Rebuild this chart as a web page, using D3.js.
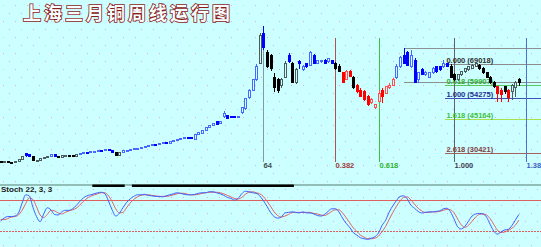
<!DOCTYPE html>
<meta charset="utf-8">
<title>上海三月铜周线运行图</title>
<style>
body { margin: 0; background: #ccffff; }
svg { display: block; font-family: "Liberation Sans", Arial, sans-serif; }
.title { font-family: "Noto Sans CJK SC", sans-serif; font-weight: 700; }
</style>
<body>
<script src="https://d3js.org/d3.v7.min.js"></script>
<script>

// weekly candles, one row per week: [open, high, low, close]
const weeklyOhlc = [
  [26530,26960,26090,26310],[26310,26740,26090,26530],[26530,26740,25870,26310],[26310,26530,25870,26090],
  [26090,26740,25870,26530],[26530,27610,26310,27390],[27390,29130,27180,28690],[29990,30430,28690,29130],
  [29560,29990,28480,28690],[28690,28910,26740,26960],[26960,27390,26740,27180],[27180,28260,26960,28040],
  [28040,28690,27830,28480],[28480,29130,28260,28910],[28910,29780,28690,29560],[29560,29780,28690,28910],
  [28910,29130,28040,28260],[28260,29340,28040,29130],[29130,29560,28910,29340],[29340,29560,28690,28910],
  [29130,29340,28690,28910],[28910,29780,28690,29560],[29560,30210,29340,29990],[29990,30860,29780,30640],
  [30640,30860,30210,30430],[30430,31080,30210,30860],[30860,31290,30640,31080],[31080,31730,30860,31510],
  [31510,31730,31080,31290],[31290,31950,31080,31730],[31730,31950,31290,31510],[31510,31730,30430,30640],
  [30640,30860,29130,29340],[29340,30640,29130,30430],[30430,31510,30210,31290],[31290,31730,31080,31510],
  [31510,31950,31290,31730],[31730,32380,31510,32160],[32160,32600,31950,32380],[32380,33030,32160,32810],
  [32810,33460,32600,33250],[33250,33680,33030,33460],[33460,34110,33250,33900],[33900,34110,33460,33680],
  [33900,34550,33680,34330],[34330,34980,34110,34760],[34760,34980,34330,34550],[34550,35410,34330,35200],
  [35200,36060,34980,35850],[35850,36500,35630,36280],[36280,36930,36060,36710],[36710,37150,36500,36930],
  [36930,37150,36500,36710],[37150,37370,36500,36710],[36280,38670,36060,38230],[38230,39530,38020,39100],
  [38880,40400,38670,39970],[39970,41700,39750,41270],[41270,42570,41050,42350],[42350,43440,42130,43000],
  [43870,44090,42570,42790],[43000,44300,42790,43870],[46040,48640,45600,47340],[46470,46900,45170,45390],
  [46040,46470,45390,45820],[46250,46470,45390,45600],[45600,46470,45390,46040],[47770,50370,47340,49940],
  [49510,54280,49070,53840],[54280,58180,53840,57740],[57740,62510,57310,62080],[62080,69020,61650,68150],
  [69450,82460,69020,81590],[82030,85490,75090,76390],[74220,75090,67280,67720],[72490,73350,65980,66850],
  [63380,65120,56880,58610],[62080,62950,56440,57740],[59480,62950,58610,62510],[63380,70320,62950,69450],
  [72490,73790,69450,69890],[69450,69890,60780,61210],[61210,67280,60350,66420],[69890,70750,66850,69020],
  [66420,68580,65980,68150],[69020,69450,67280,67720],[68580,74650,68150,73790],[72920,73350,69020,69450],
  [69450,70750,69020,70320],[69890,70750,69450,70320],[70750,71190,69020,69450],[69890,71620,69450,71190],
  [70320,70750,69020,69450],[69450,69890,66420,67280],[68150,69020,65550,65980],[65120,65550,60780,61210],
  [62510,66420,62080,65550],[65980,66420,63380,63810],[63380,63810,58180,58610],[59480,60350,56440,56880],
  [57740,58610,54710,55140],[56880,57740,52970,53410],[54710,55580,50810,51240],[52110,54280,51670,53410],
  [50370,51670,49510,51240],[52970,57740,52540,56440],[57740,58610,52110,54710],[56440,59480,56010,59050],
  [58610,60780,58180,59910],[59910,62950,59480,62510],[62950,69020,62510,68150],[67720,72490,67280,72050],
  [72920,75960,69020,69450],[73790,74650,68150,68580],[67720,75090,67280,72920],[70750,71620,60780,61210],
  [62080,65550,60780,65120],[66420,67280,64250,64680],[64680,65980,63810,65120],[63380,65550,62950,65120],
  [65120,67720,64680,67280],[67720,68150,65120,65550],[67720,68150,65980,66420],[67720,70750,67280,69450],
  [69020,69450,67720,68150],[68150,69020,62950,63380],[64250,65120,61650,62080],[62080,64680,61650,64250],
  [64250,65980,63810,65550],[65550,67280,65120,66850],[66420,68150,65980,67720],[67280,69020,66850,68580],
  [68150,69450,67720,69020],[68580,69020,66420,66850],[67280,67720,64680,65120],[65120,65550,62950,63380],
  [63380,63810,60350,60780],[61210,61650,58610,59050],[59050,59480,52540,56440],[57740,58610,52540,55580],
  [59050,59480,56010,56880],[57740,58180,52540,54280],[56880,60350,53410,59910],[58610,61650,54710,61210],
  [62080,62950,59480,60780]
];

// colour segment of the candles, as runs of [segment, number of weeks]
const segmentRuns = [["k",7],["b",2],["k",5],["b",2],["k",6],["b",10],["k",2],["b",38],["k",1],["b",1],
  ["k",6],["b",1],["k",2],["b",10],["k",2],["r",3],["k",1],["r",11],["b",15],["k",13],["r",2],["k",1],
  ["r",1],["k",3]];

// Stoch 22,3,3 : %K and %D per week
const stochK = [39,45,48,48,49,55,74,90,88,66, 48,38,53,65,61,52,51,57,60,60,
  63,69,77,84,88,90,92,94,95,92, 78,61,49,54,65,75,82,87,90,90,
  91,89,88,87,87,86,88,90,92,94, 93,91,90,90,91,93,94,94,96,96,
  94,92,89,85,83,80,83,92,97,96, 94,93,88,79,68,56,48,45,47,55,
  56,57,56,55,57,55,55,53,50,49, 52,58,63,63,57,45,35,27,17,12,
  7,5,4,6,9,16,31,41,57,69, 79,87,88,82,70,64,58,55,56,57,
  57,58,59,63,64,57,43,28,24,29, 39,49,53,54,53,47,33,20,14,18,
  22,23,30,41,52];
const stochD = [42,42,44,47,48,51,60,73,84,81, 67,51,46,52,60,59,55,53,56,59,
  61,64,70,77,83,87,90,92,94,94, 88,77,63,55,56,65,74,81,86,89,
  90,90,89,88,87,87,87,88,90,92, 93,93,91,90,90,91,93,94,95,95,
  95,94,92,89,86,83,82,85,91,95, 96,94,92,87,78,68,57,50,47,49,
  52,56,56,56,56,56,56,54,53,51, 50,53,58,61,61,55,46,36,26,19,
  12,8,5,5,6,10,19,29,43,56, 68,78,85,86,80,72,64,59,56,56,
  57,57,58,60,62,61,55,43,32,27, 31,39,47,52,53,51,44,33,22,17,
  18,21,25,31,41];
const stochBands = [80, 20];
const signalSpans = [[26, 34], [37, 81]];   // week index spans marked on the divider

// fibonacci tools
const fibHigh = 69018, fibLow = 54275, fibStartWeek = 123.6;
const fibLevels = [0, 0.618, 1, 1.618, 2.618];
const rangeBox = { week: 112, top: 75956, bottom: 61213 };
const timeFibFrom = 73, timeFibTo = 126;
const timeFibRatios = [0, 0.382, 0.618, 1, 1.382];
const timeFibLabels = ["64", "0.382", "0.618", "1.000", "1.382"];

////* style *////
const W = 541, H = 247;
const segColors = {
  k: { fill: "#000000", hollow: "#4a5c5c" },
  b: { fill: "#0000ff", hollow: "#4868ff" },
  r: { fill: "#ff0000", hollow: "#ff5050" }
};
const fibLineColors = ["#8c8c8c", "#5cc85c", "#4050b8", "#a8e050", "#a86060"];
const fibTextColors = ["#303030", "#30b030", "#203090", "#40c040", "#804040"];
const timeLineColors = ["#8898a0", "#b05050", "#40c040", "#606070", "#5070d0"];
const timeTextColors = ["#405050", "#a04040", "#30b030", "#404050", "#4060c0"];

const segments = segmentRuns.flatMap(([s, n]) => Array(n).fill(s));
const candles = weeklyOhlc.map((d, i) => ({ i, o: d[0], h: d[1], l: d[2], c: d[3], seg: segments[i] }));

const x = d3.scaleLinear().domain([0, candles.length - 1]).range([0.5, 518.9]);
const y = d3.scaleLinear().domain([30421, 69018]).range([153, 64]);
const yS = d3.scaleLinear().domain([20, 80]).range([231, 200]);

const svg = d3.select("body").append("svg").attr("width", W).attr("height", H);
svg.append("rect").attr("width", W).attr("height", H).attr("fill", "#ccffff");

// dotted background
const dots = [];
for (let r = 0; r * 8 + 5 < H; r++) {
  for (let c = 0; c * 12 < W; c++) {
    dots.push({ x: c * 12 + (r % 2) * 6 + 3, y: r * 8 + 5, g: (c + r) % 4 === 0 });
  }
}
svg.append("g").selectAll("rect").data(dots).join("rect")
  .attr("x", d => d.x).attr("y", d => d.y).attr("width", 1).attr("height", 1)
  .attr("fill", d => d.g ? "#a8e8b0" : "#e0a8e8");

// title, hollow lettering
svg.append("text").attr("class", "title")
  .attr("x", 23).attr("y", 20)
  .style("font-size", "18px").style("letter-spacing", "3px")
  .attr("fill", "#f6ffff").attr("stroke", "#8b1a1a").attr("stroke-width", 1.6)
  .attr("paint-order", "stroke")
  .text("上海三月铜周线运行图");

// range box lines
const gTools = svg.append("g").attr("shape-rendering", "crispEdges");
[rangeBox.top, rangeBox.bottom].forEach(p => {
  gTools.append("line")
    .attr("x1", x(rangeBox.week)).attr("x2", W)
    .attr("y1", Math.round(y(p)) + 0.5).attr("y2", Math.round(y(p)) + 0.5)
    .attr("stroke", "#8c9090");
});

// price fibonacci levels
fibLevels.forEach((r, k) => {
  const p = fibHigh - r * (fibHigh - fibLow);
  const yy = Math.round(y(p)) + 0.5;
  gTools.append("line")
    .attr("x1", x(fibStartWeek)).attr("x2", W).attr("y1", yy).attr("y2", yy)
    .attr("stroke", fibLineColors[k]);
  svg.append("text")
    .attr("x", x(fibStartWeek) + 1).attr("y", yy - 1.5)
    .style("font-size", "7.5px").style("font-weight", "bold").attr("fill", fibTextColors[k])
    .text(`${r.toFixed(3)} (${Math.round(p)})`);
});

// time fibonacci lines
timeFibRatios.forEach((r, k) => {
  const wk = timeFibFrom + Math.floor(r * (timeFibTo - timeFibFrom));
  const xx = Math.round(x(wk)) + 0.5;
  gTools.append("line")
    .attr("x1", xx).attr("x2", xx).attr("y1", 38).attr("y2", 162)
    .attr("stroke", timeLineColors[k]);
  svg.append("text")
    .attr("x", xx).attr("y", 168)
    .style("font-size", "7.5px").style("font-weight", "bold").attr("fill", timeTextColors[k])
    .text(timeFibLabels[k]);
});

// candles
const gC = svg.append("g").attr("shape-rendering", "crispEdges");
const cg = gC.selectAll("g").data(candles).join("g");
cg.append("line")
  .attr("x1", d => Math.round(x(d.i)) + 0.5).attr("x2", d => Math.round(x(d.i)) + 0.5)
  .attr("y1", d => y(d.h)).attr("y2", d => y(d.l))
  .attr("stroke", d => d.c >= d.o ? segColors[d.seg].hollow : segColors[d.seg].fill);
cg.append("rect")
  .attr("x", d => Math.round(x(d.i)) - 1)
  .attr("y", d => Math.min(y(d.o), y(d.c)))
  .attr("width", 2)
  .attr("height", d => Math.max(1, Math.abs(y(d.o) - y(d.c))))
  .attr("fill", d => d.c >= d.o ? "#ccffff" : segColors[d.seg].fill)
  .attr("stroke", d => d.c >= d.o ? segColors[d.seg].hollow : segColors[d.seg].fill);

// divider and stoch panel
svg.append("line").attr("x1", 0).attr("x2", W).attr("y1", 185).attr("y2", 185)
  .attr("stroke", "#7fa8a0").attr("stroke-width", 1.5);
svg.append("g").selectAll("rect").data(signalSpans).join("rect")
  .attr("x", d => x(d[0]) - 1.8).attr("width", d => x(d[1]) - x(d[0]) + 3.6)
  .attr("y", 184.5).attr("height", 2.5).attr("fill", "#000");

svg.append("text").attr("x", 1).attr("y", 192)
  .style("font-size", "8px").style("font-weight", "bold").attr("fill", "#202020").text("Stoch 22, 3, 3");

stochBands.forEach((v, k) => {
  svg.append("line").attr("x1", 0).attr("x2", W)
    .attr("y1", Math.round(yS(v)) + 0.5).attr("y2", Math.round(yS(v)) + 0.5)
    .attr("stroke", "#e06060").attr("stroke-dasharray", k === 1 ? "2,1" : null)
    .attr("shape-rendering", "crispEdges");
});

const stochLine = d3.line().x((v, i) => x(i)).y(v => yS(v)).curve(d3.curveMonotoneX);
svg.append("path").datum(stochD).attr("d", stochLine)
  .attr("fill", "none").attr("stroke", "#e06060").attr("stroke-width", 1);
svg.append("path").datum(stochK).attr("d", stochLine)
  .attr("fill", "none").attr("stroke", "#4060ff").attr("stroke-width", 1);

</script>
</body>
